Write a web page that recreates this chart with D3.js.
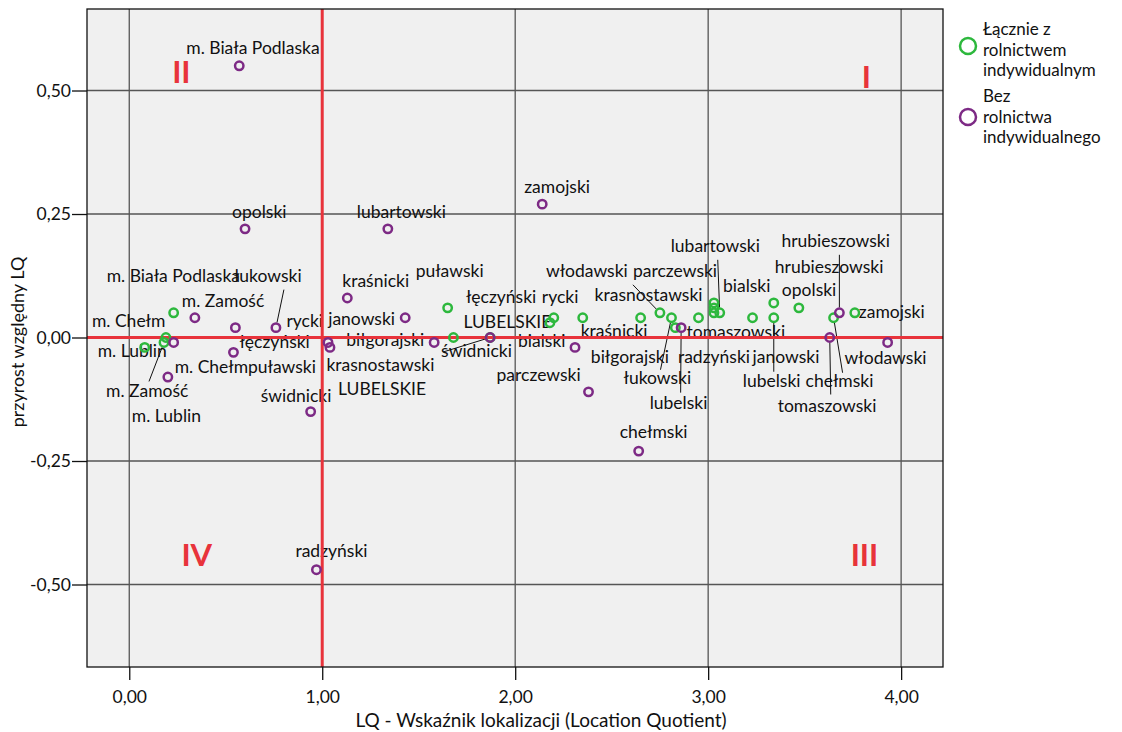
<!DOCTYPE html>
<html>
<head>
<meta charset="utf-8">
<script src="https://cdn.jsdelivr.net/npm/d3@7"></script>
<style>
  body { margin: 0; background: #fff; }
  svg { display: block; font-family: Lato, "Open Sans", sans-serif; }
</style>
</head>
<body>
<svg id="chart"></svg>
<script>
// Series names (legend)
const seriesNames = ["Łącznie z rolnictwem indywidualnym", "Bez rolnictwa indywidualnego"]
const legendLines = [["Łącznie z", "rolnictwem", "indywidualnym"], ["Bez", "rolnictwa", "indywidualnego"]]

// Łącznie z rolnictwem indywidualnym
const greenNames = ["m. Biała Podlaska", "m. Chełm", "m. Lublin", "m. Zamość", "puławski", "LUBELSKIE", "świdnicki",
  "rycki", "łęczyński", "kraśnicki", "krasnostawski", "włodawski", "łukowski", "biłgorajski", "tomaszowski",
  "parczewski", "bialski", "radzyński", "lubartowski", "janowski", "hrubieszowski", "lubelski", "opolski",
  "chełmski", "zamojski"]
const greenLQ = [0.23, 0.19, 0.08, 0.18, 1.65, 1.68, 1.87, 2.20, 2.18, 2.35, 2.65, 2.75, 2.81, 2.83, 2.95,
  3.03, 3.03, 3.03, 3.06, 3.23, 3.34, 3.34, 3.47, 3.65, 3.76]
const greenGrowth = [0.05, 0.00, -0.02, -0.01, 0.06, 0.00, 0.00, 0.04, 0.03, 0.04, 0.04, 0.05, 0.04, 0.02, 0.04,
  0.07, 0.06, 0.05, 0.05, 0.04, 0.07, 0.04, 0.06, 0.04, 0.05]

// Bez rolnictwa indywidualnego
const purpleNames = ["m. Biała Podlaska", "opolski", "lubartowski", "zamojski", "kraśnicki", "janowski", "m. Zamość",
  "rycki", "łukowski", "m. Chełm", "łęczyński", "m. Lublin", "świdnicki", "puławski", "krasnostawski",
  "biłgorajski", "LUBELSKIE", "bialski", "parczewski", "chełmski", "lubelski", "hrubieszowski", "tomaszowski",
  "włodawski", "radzyński"]
const purpleLQ = [0.57, 0.60, 1.34, 2.14, 1.13, 1.43, 0.34, 0.55, 0.76, 0.23, 0.54, 0.20, 0.94, 1.03, 1.04,
  1.58, 1.87, 2.31, 2.38, 2.64, 2.86, 3.68, 3.63, 3.93, 0.97]
const purpleGrowth = [0.55, 0.22, 0.22, 0.27, 0.08, 0.04, 0.04, 0.02, 0.02, -0.01, -0.03, -0.08, -0.15, -0.01, -0.02,
  -0.01, 0.00, -0.02, -0.11, -0.23, 0.02, 0.05, 0.00, -0.01, -0.47]

// Axis ticks
const xTicks = [0, 1, 2, 3, 4]
const yTicks = [-0.5, -0.25, 0, 0.25, 0.5]

// Quadrant markers and the reference lines
const quadNames = ["I", "II", "III", "IV"]
const quadLQ = [3.82, 0.27, 3.81, 0.35]
const quadGrowth = [0.505, 0.515, -0.463, -0.463]
const refLQ = 1
const refGrowth = 0

// Label placement, px from the point: [dx, dy, leader dx, leader dy]
const greenLabelPos = [[-67, -31], [-74, -11], [-47, 10], [-58, 55, -15, 39], [-32, -31], [10, -10],
  [-49, 19.5, -47, 14.5], [-12, -15], [-84, -20], [-2, 19], [-46, -17], [-114, -36, -27, -28],
  [-48, 66, -11, 52], [-84.5, 35], [-12, 20], [-81, -26], [9, -16], [-36, 50], [-49, -61, -2, -53],
  [0, 45], [1, -30], [-31, 69, 0, 54], [-17, -12], [-28, 69, 9, 55], [4, 5]]
const purpleLabelPos = [[-53, -12], [-13, -11], [-31, -11], [-18, -11], [-5, -11], [-77, 7], [-13, -11],
  [51, -1], [-42, -46, 8, -38], [1, 31], [6, -4], [-36, 45], [-50, -9.5], [-80, 31], [-3.5, 24],
  [-88, 4], [-152, 57.5], [-57, 0], [-92, -11], [-19, -13], [-31.5, 81, -0.5, 65], [-58, -66, 0, -58],
  [-52, 74, 1, 57], [-43, 22], [-21, -13]]

const colors = ["#2db83d", "#7d2a85"]
const red = "#e8333b"

const width = 1122
const height = 732
const plot = { left: 87, right: 943, top: 9, bottom: 667 }

const svg = d3.select("#chart")
  .attr("width", width)
  .attr("height", height)

const x = d3.scaleLinear()
  .domain([-0.219, 4.217])
  .range([plot.left, plot.right])

const y = d3.scaleLinear()
  .domain([-0.667, 0.665])
  .range([plot.bottom, plot.top])

const fmt = d => (d < 0 ? "-" : "") + Math.abs(d).toFixed(2).replace(".", ",")

// Build point records from the arrays
const toPoints = (names, lq, gr, pos, s) => names.map((n, i) => ({
  name: n, lq: lq[i], growth: gr[i], pos: pos[i], series: s
}))
const points = [
  ...toPoints(greenNames, greenLQ, greenGrowth, greenLabelPos, 0),
  ...toPoints(purpleNames, purpleLQ, purpleGrowth, purpleLabelPos, 1)
]

// Plot background
svg.append("rect")
  .attr("x", plot.left)
  .attr("y", plot.top)
  .attr("width", plot.right - plot.left)
  .attr("height", plot.bottom - plot.top)
  .attr("fill", "#f0f0f0")

// Grid
svg.append("g")
  .selectAll("line")
  .data(xTicks.filter(d => d !== refLQ))
  .join("line")
  .attr("x1", d => x(d)).attr("x2", d => x(d))
  .attr("y1", plot.top).attr("y2", plot.bottom)
  .attr("stroke", "#555").attr("stroke-width", 1.3)

svg.append("g")
  .selectAll("line")
  .data(yTicks.filter(d => d !== refGrowth))
  .join("line")
  .attr("y1", d => y(d)).attr("y2", d => y(d))
  .attr("x1", plot.left).attr("x2", plot.right)
  .attr("stroke", "#555").attr("stroke-width", 1.3)

// Point labels
const labels = svg.append("g")
  .attr("font-size", "17.5px")
  .attr("fill", "#111")

labels.selectAll("text")
  .data(points)
  .join("text")
  .attr("x", d => x(d.lq) + d.pos[0])
  .attr("y", d => y(d.growth) + d.pos[1])
  .text(d => d.name)

// Leader lines, stopping at the marker edge
const r = 4.2
labels.selectAll("line")
  .data(points.filter(d => d.pos.length > 2))
  .join("line")
  .attr("x1", d => x(d.lq) + d.pos[2])
  .attr("y1", d => y(d.growth) + d.pos[3])
  .attr("x2", d => {
    const len = Math.hypot(d.pos[2], d.pos[3])
    return x(d.lq) + d.pos[2] * (r + 1) / len
  })
  .attr("y2", d => {
    const len = Math.hypot(d.pos[2], d.pos[3])
    return y(d.growth) + d.pos[3] * (r + 1) / len
  })
  .attr("stroke", "#111")
  .attr("stroke-width", 1)

// Reference lines
svg.append("line")
  .attr("x1", x(refLQ)).attr("x2", x(refLQ))
  .attr("y1", plot.top).attr("y2", plot.bottom)
  .attr("stroke", red).attr("stroke-width", 3)
svg.append("line")
  .attr("y1", y(refGrowth)).attr("y2", y(refGrowth))
  .attr("x1", plot.left).attr("x2", plot.right)
  .attr("stroke", red).attr("stroke-width", 3)

// Quadrant markers
svg.append("g")
  .selectAll("text")
  .data(quadNames)
  .join("text")
  .attr("x", (d, i) => x(quadLQ[i]))
  .attr("y", (d, i) => y(quadGrowth[i]))
  .attr("text-anchor", "middle")
  .attr("font-size", "31px")
  .attr("font-weight", "bold")
  .attr("fill", red)
  .text(d => d)

// Points
svg.append("g")
  .selectAll("circle")
  .data(points)
  .join("circle")
  .attr("cx", d => x(d.lq))
  .attr("cy", d => y(d.growth))
  .attr("r", r)
  .attr("fill", "none")
  .attr("stroke", d => colors[d.series])
  .attr("stroke-width", 2.5)

// Frame
svg.append("rect")
  .attr("x", plot.left)
  .attr("y", plot.top)
  .attr("width", plot.right - plot.left)
  .attr("height", plot.bottom - plot.top)
  .attr("fill", "none")
  .attr("stroke", "#111")
  .attr("stroke-width", 1.3)

// Axes
svg.append("g")
  .attr("transform", `translate(0, ${plot.bottom})`)
  .call(d3.axisBottom(x).tickValues(xTicks).tickFormat(fmt).tickSize(13).tickSizeOuter(0))
  .call(g => g.select(".domain").remove())
  .call(g => g.selectAll(".tick line").attr("stroke", "#111").attr("stroke-width", 1.3))
  .call(g => g.selectAll(".tick text")
    .attr("font-family", "Lato, sans-serif")
    .attr("font-size", "17.5px")
    .attr("fill", "#111")
    .attr("dy", "1.15em"))

svg.append("g")
  .attr("transform", `translate(${plot.left}, 0)`)
  .call(d3.axisLeft(y).tickValues(yTicks).tickFormat(fmt).tickSize(15).tickSizeOuter(0))
  .call(g => g.select(".domain").remove())
  .call(g => g.selectAll(".tick line").attr("stroke", "#111").attr("stroke-width", 1.3))
  .call(g => g.selectAll(".tick text")
    .attr("font-family", "Lato, sans-serif")
    .attr("font-size", "17.5px")
    .attr("fill", "#111")
    .attr("x", -16))

// Axis titles
svg.append("text")
  .attr("x", 541)
  .attr("y", 727)
  .attr("text-anchor", "middle")
  .attr("font-size", "19px")
  .attr("fill", "#111")
  .text("LQ - Wskaźnik lokalizacji (Location Quotient)")

svg.append("text")
  .attr("transform", "translate(24, 342) rotate(-90)")
  .attr("text-anchor", "middle")
  .attr("font-size", "18px")
  .attr("fill", "#111")
  .text("przyrost względny LQ")

// Legend: marker centre and first baseline for each entry
const legendMarkerY = [46, 117]
const legendTextY = [35, 102]

const legend = svg.append("g")
  .selectAll("g")
  .data(seriesNames)
  .join("g")

legend.append("circle")
  .attr("cx", 968)
  .attr("cy", (d, i) => legendMarkerY[i])
  .attr("r", 8)
  .attr("fill", "none")
  .attr("stroke", (d, i) => colors[i])
  .attr("stroke-width", 2.5)

legend.selectAll("text")
  .data((d, i) => legendLines[i].map((t, j) => ({ t, y: legendTextY[i] + j * 20.5 })))
  .join("text")
  .attr("x", 983)
  .attr("y", d => d.y)
  .attr("font-size", "17px")
  .attr("fill", "#111")
  .text(d => d.t)
</script>
</body>
</html>
